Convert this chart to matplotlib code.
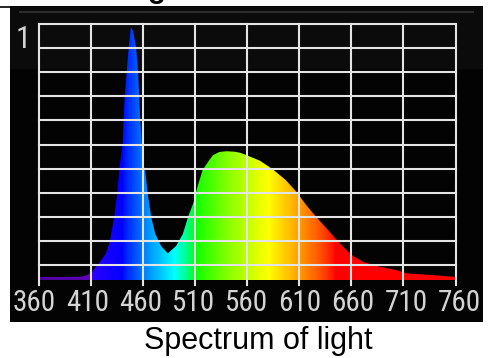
import matplotlib
matplotlib.use("Agg")
import matplotlib.pyplot as plt
import numpy as np
from matplotlib import font_manager
from matplotlib.lines import Line2D
from matplotlib.transforms import ScaledTranslation

# spectrum (wavelength in nm, relative intensity)
wavelength = [360, 380, 400, 405, 410, 416, 420, 424, 428, 432, 435, 437, 440, 442,
              446, 448, 450, 453, 455, 457, 458.6, 459.5, 462, 464, 467.5, 471.5, 477,
              483.5, 491.5, 498, 503, 508, 512, 517, 523.5, 527, 533, 540, 548, 553,
              559, 572, 584.5, 597, 607, 616.5, 626, 639, 644, 652, 660, 671, 687,
              703, 713, 735, 757, 760]
intensity = [0.012, 0.012, 0.013, 0.018, 0.028, 0.059, 0.08, 0.104, 0.154, 0.247, 0.343,
             0.436, 0.53, 0.716, 0.911, 0.987, 0.975, 0.91, 0.81, 0.63, 0.53, 0.46, 0.42,
             0.343, 0.247, 0.18, 0.133, 0.104, 0.133, 0.18, 0.247, 0.30, 0.364, 0.43,
             0.469, 0.488, 0.50, 0.503, 0.501, 0.497, 0.488, 0.466, 0.432, 0.39, 0.345,
             0.293, 0.247, 0.189, 0.165, 0.13, 0.098, 0.071, 0.052, 0.039, 0.026, 0.02,
             0.013, 0.012]
tick_nm = [360, 410, 460, 510, 560, 610, 660, 710, 760]
tick_labels = [str(t) for t in tick_nm]
caption = "Spectrum of light"

W, H = 492, 358

# narrow font for the scale numbers, if one is around
names = {f.name for f in font_manager.fontManager.ttflist}
narrow = "Liberation Sans"
for cand in ["Liberation Sans Narrow", "Roboto Condensed", "Open Sans Condensed",
             "Noto Sans Condensed", "DejaVu Sans Condensed"]:
    if cand in names:
        narrow = cand
        break


def wl_color(w):
    # violet end, rest the usual wavelength -> rgb ramp
    if w < 440:
        r = np.interp(w, [360, 408, 413, 440], [0.30, 0.36, 0.16, 0.0])
        g = 0.0
        b = np.interp(w, [360, 408, 413, 440], [0.62, 0.72, 1.0, 1.0])
        return [r, g, b]
    if w < 490:
        r, g, b = 0.0, (w - 440) / 50, 1.0
    elif w < 510:
        r, g, b = 0.0, 1.0, -(w - 510) / 20
    elif w < 580:
        r, g, b = (w - 510) / 70, 1.0, 0.0
    elif w < 645:
        r, g, b = 1.0, -(w - 645) / 65, 0.0
    else:
        r, g, b = 1.0, 0.0, 0.0
    return [c ** 0.8 if c > 0 else 0.0 for c in (r, g, b)]


def px(x0, y0, x1, y1):
    # pixel box (top-down) -> figure fractions
    return [x0 / W, (H - y1) / H, (x1 - x0) / W, (y1 - y0) / H]


fig = plt.figure(figsize=(W / 100, H / 100), dpi=100)
fig.patch.set_facecolor("white")

# dark panel as a background axes
bg = fig.add_axes(px(10, 6, 483, 322), zorder=0)
bg.set_xlim(0, 473)
bg.set_ylim(316, 0)
bg.axis("off")
bg.add_patch(plt.Rectangle((0, 0), 473, 316, color="#030303"))
bg.add_patch(plt.Rectangle((0, 1), 473, 61, color="#0b0b0b"))
bg.plot([10, 463], [6, 6], color="#2c2c2c", lw=1.5)
fig.lines.append(Line2D([0, 10 / W], [(H - 6.5) / H] * 2, transform=fig.transFigure,
                        color="black", lw=1.2))

ax = fig.add_axes(px(39.3, 24, 455.5, 285), zorder=1)
ax.set_facecolor("none")
ybot = -5 / 256
ax.set_xlim(360, 760)
ax.set_ylim(ybot, 1.0)

poly = ax.fill_between(wavelength, 0, intensity, facecolor="none", edgecolor="none")
grad_nm = np.linspace(360, 760, 401)
grad = np.array([[wl_color(w) for w in grad_nm]])
im = ax.imshow(grad, extent=(360, 760, 0, 1.0), aspect="auto",
               interpolation="nearest", zorder=1)
im.set_clip_path(poly.get_paths()[0], transform=ax.transData)

# grid
grid_c = "#e4e4e4"
for t in tick_nm:
    ax.plot([t, t], [ybot, 1.0], color=grid_c, lw=1.5, clip_on=False, zorder=3,
            solid_capstyle="projecting")
for yv in np.linspace(1 - 10 * 24.1 / 256, 1.0, 11):
    ax.plot([360, 760], [yv, yv], color=grid_c, lw=1.5, clip_on=False, zorder=3,
            solid_capstyle="projecting")

for s in ax.spines.values():
    s.set_visible(False)
ax.set_yticks([])
ax.set_xticks(tick_nm)
ax.set_xticklabels(tick_labels, family=[narrow, "DejaVu Sans"],
                   fontsize=21, color="#d4d4d4")
ax.tick_params(axis="x", length=0, pad=3)
# the numbers sit on a slightly wider spacing than the grid
for k, lab in enumerate(ax.get_xticklabels()):
    dx = (34.5 + k * 53.06) - (39.3 + k * 52.0)
    lab.set_transform(lab.get_transform() + ScaledTranslation(dx / 100, 0, fig.dpi_scale_trans))

fig.text(23.5 / W, (H - 39) / H, "1", family=[narrow, "DejaVu Sans"],
         fontsize=22, color="#d4d4d4", ha="center", va="center")

# cropped title remnant at the very top
fig.text(157 / W, (H + 1.5) / H, "g", family=["Liberation Sans", "DejaVu Sans"],
         fontweight="bold", fontsize=21, color="black", ha="center", va="baseline")

fig.text(258 / W, (H - 349) / H, caption, family=["Liberation Sans", "DejaVu Sans"],
         fontsize=22, color="black", ha="center", va="baseline")

fig.savefig("out.png", dpi=100)
